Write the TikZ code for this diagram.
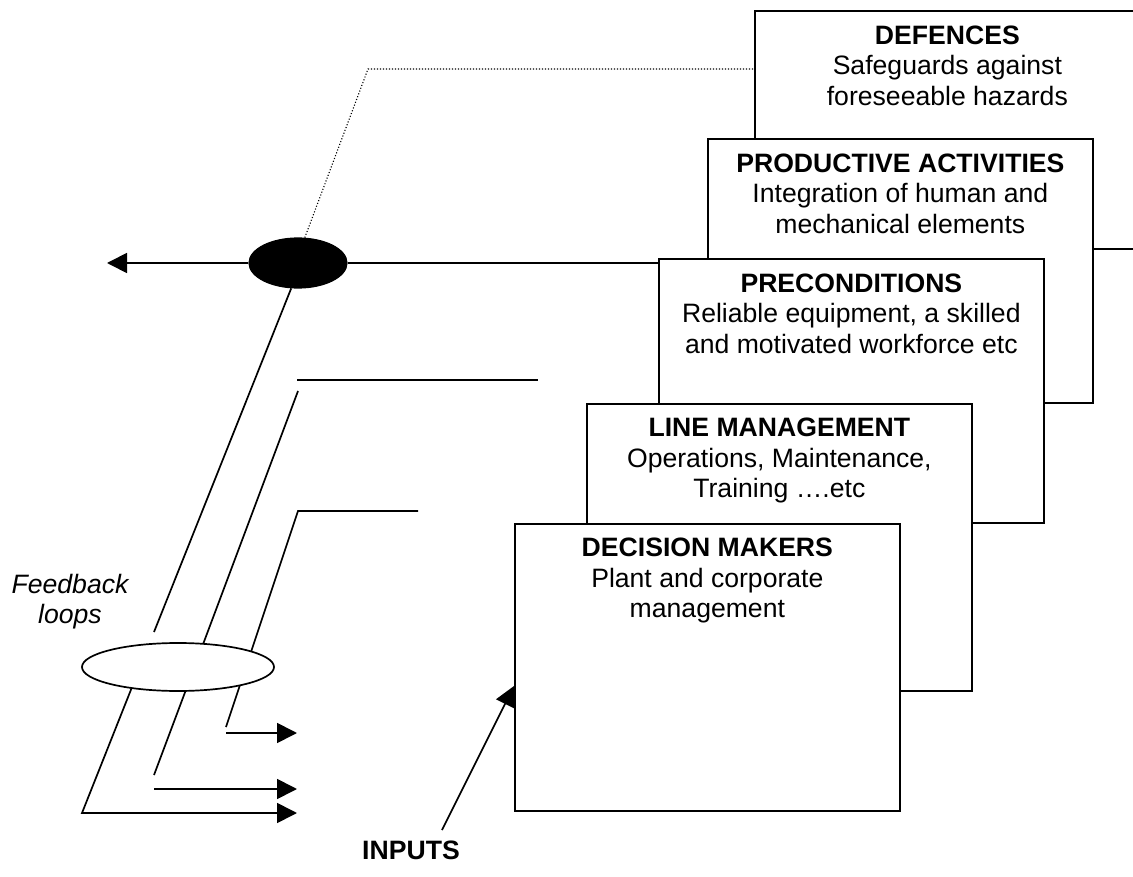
\documentclass[tikz,border=0pt]{standalone}
\usepackage{fontspec}
\setmainfont{Liberation Sans}
\usetikzlibrary{arrows.meta,shapes.geometric,backgrounds}
\newcommand{\figfont}{\fontsize{26.6}{30.5}\selectfont}

\begin{document}
\begin{tikzpicture}[x=1pt,y=-1pt,
  layerbox/.style={draw, line width=1.7pt, fill=white, rectangle, anchor=north west,
                   inner sep=0pt, minimum width=385pt},
  boxtext/.style={anchor=north, align=center, inner sep=0pt, font=\figfont},
  wire/.style={line width=1.7pt},
  dotline/.style={line width=1.1pt, dash pattern=on 1.1pt off 1.9pt},
  tipR/.style={-{Triangle[length=20pt,width=20pt]}},
]
\useasboundingbox (0,0) rectangle (1133,877);
\clip (0,0) rectangle (1133,877);

% stacked layers, back to front
\node[layerbox, minimum height=238pt] (def) at (754,10) {};
\node[boxtext] (deft) at ([yshift=-15.5pt]def.north)
  {\textbf{DEFENCES}\\Safeguards against\\foreseeable hazards};

\node[layerbox, minimum height=264pt] (pa) at (707,138) {};
\node[boxtext] (pat) at ([yshift=-15.5pt]pa.north)
  {\textbf{PRODUCTIVE ACTIVITIES}\\Integration of human and\\mechanical elements};

\node[layerbox, minimum height=264pt] (pre) at (658,258) {};
\node[boxtext] (pret) at ([yshift=-15.5pt]pre.north)
  {\textbf{PRECONDITIONS}\\Reliable equipment, a skilled\\and motivated workforce etc};

\node[layerbox, minimum height=287pt] (lm) at (586,403) {};
\node[boxtext] (lmt) at ([yshift=-15pt]lm.north)
  {\textbf{LINE MANAGEMENT}\\Operations, Maintenance,\\Training \dots.etc};

\node[layerbox, minimum height=287pt] (dm) at (514,523) {};
\node[boxtext] (dmt) at ([yshift=-15pt]dm.north)
  {\textbf{DECISION MAKERS}\\Plant and corporate\\management};

% junctions on the left
\node[ellipse, draw, fill=black, line width=1.2pt, inner sep=0pt,
      minimum width=98pt, minimum height=50pt] (blk) at (298,263) {};
\node[ellipse, draw, fill=white, line width=1.7pt, inner sep=0pt,
      minimum width=192pt, minimum height=48pt] (fb) at (178,667) {};

% labels
\node[anchor=north, align=center, inner sep=0pt, font=\figfont\itshape] (fbl) at (70,574)
  {Feedback\\loops};
\node[inner sep=0pt, font=\figfont\bfseries] (inputs) at (411,850) {INPUTS};

% free ends of the connectors
\coordinate (outL) at (107,263);
\coordinate (dbend) at (368,69);
\coordinate (l1a) at (154,632);
\coordinate (l1b) at (140,667);
\coordinate (l1c) at (82,813);
\coordinate (l1d) at (297,813);
\coordinate (l2h1) at (297,380);
\coordinate (l2h2) at (538,380);
\coordinate (l2a) at (298,391);
\coordinate (l2b) at (154,775);
\coordinate (l2c) at (154,789);
\coordinate (l2d) at (297,789);
\coordinate (l3h) at (418,511);
\coordinate (l3a) at (298,511);
\coordinate (l3b) at (226,727);
\coordinate (l3c) at (226,733);
\coordinate (l3d) at (297,733);
\coordinate (inA) at (442,830);
\coordinate (inB) at (514,686);

\begin{scope}[on background layer]
  % main output line through the black junction
  \draw[wire, tipR] (blk.west) -- (outL);
  \draw[wire] (blk.east) -- (blk -| pre.west);
  % dotted link to the defences
  \draw[dotline] (blk.75) -- (dbend) -- (dbend -| def.west);
  % feedback loops
  \draw[wire] (blk.255) -- (l1a);
  \draw[wire, tipR] (l1b) -- (l1c) -- (l1d);
  \draw[wire] (l2h1) -- (l2h2);
  \draw[wire] (l2a) -- (l2b);
  \draw[wire, tipR] (l2c) -- (l2d);
  \draw[wire] (l3h) -- (l3a) -- (l3b);
  \draw[wire, tipR] (l3c) -- (l3d);
  % inputs
  \draw[wire, tipR] (inA) -- (inB);
\end{scope}
\end{tikzpicture}
\end{document}
